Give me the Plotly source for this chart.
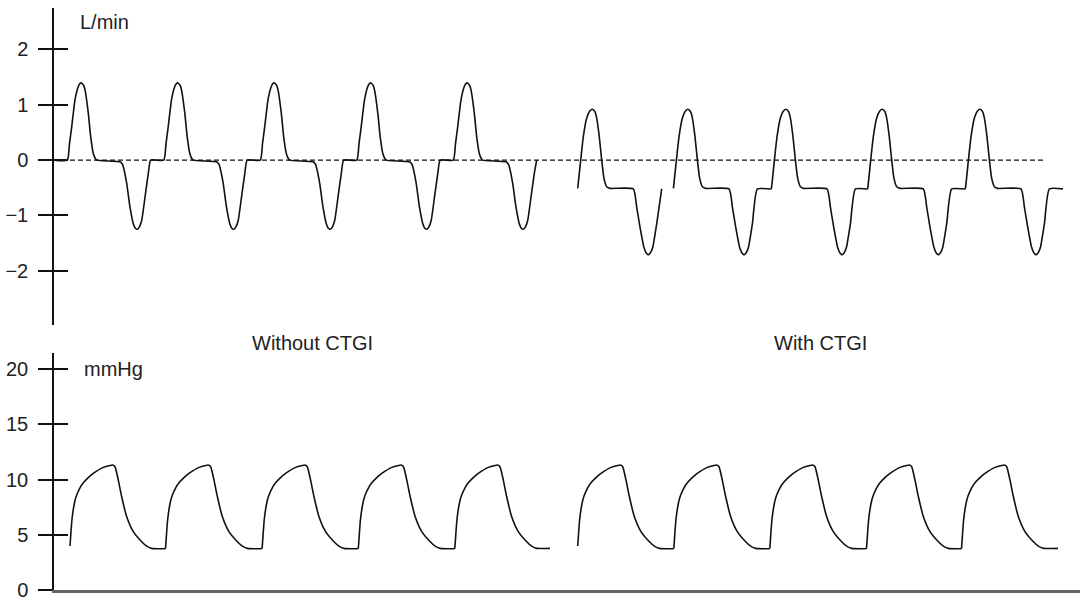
import plotly.graph_objects as go

# ---------------- data (time axis in arbitrary units, 0 = y-axis) ----------------
# Flow (L/min), one cycle "Without CTGI", offsets from start of inspiratory rise
flow_no_dt = [0, 2.2, 4.4, 7.7, 11.0, 12.5, 13.7, 15.0, 16.3, 17.7, 21.0, 23.4, 26.0, 28.0,
              29.4, 52.7, 55.0, 56.0, 59.4, 62.7, 66.0, 68.0, 70.0, 72.0, 74.4, 77.7, 81.0,
              83.4]
flow_no_v = [0, 0.30, 0.60, 1.09, 1.33, 1.38, 1.40, 1.38, 1.35, 1.27, 0.85, 0.42, 0.12, 0.03,
             0, -0.03, -0.07, -0.12, -0.42, -0.85, -1.15, -1.23, -1.25, -1.21, -1.09, -0.67,
             -0.24, 0]
flow_no_starts = [13.3, 109.8, 206.3, 302.8, 399.3]

# Flow (L/min), one cycle "With CTGI", offsets from inspiratory peak
flow_ct_dt = [-14.6, -11.6, -9.0, -5.6, -2.5, 0, 2.5, 4.4, 7.0, 9.4, 11.7, 14.4, 17.7, 41.0,
              44.4, 47.7, 51.7, 54.0, 56.0, 58.0, 60.4, 64.4, 69.4]
flow_ct_v = [-0.51, 0, 0.42, 0.76, 0.89, 0.92, 0.88, 0.76, 0.42, 0, -0.33, -0.48, -0.51, -0.52,
             -0.85, -1.21, -1.58, -1.68, -1.71, -1.68, -1.58, -1.15, -0.52]
flow_ct_peaks = [538.3, 634.0, 732.0, 828.3, 926.0]
flow_ct_end = 1009.0

zero_line_t = [0, 989]
zero_line_v = [0, 0]

# Pressure (mmHg), one cycle, offsets from start of rise
pres_dt = [0, 1.0, 2.0, 3.3, 5.0, 6.7, 10.0, 13.3, 18.0, 23.3, 33.3, 40.0, 42.7, 45.0, 48.3,
           51.7, 56.7, 63.3, 71.7, 77.0, 81.7]
pres_v = [3.98, 5.3, 6.4, 7.3, 8.1, 8.6, 9.25, 9.7, 10.15, 10.55, 11.10, 11.27, 11.31, 11.16,
          9.95, 8.44, 6.63, 5.28, 4.37, 3.95, 3.77]
pres_no_starts = [16.0, 111.7, 208.3, 304.5, 401.0]
pres_no_end = 496.0
pres_ct_starts = [523.7, 620.0, 716.0, 812.7, 907.7]
pres_ct_end = 1004.0

flow_ticks = [-2, -1, 0, 1, 2]
pres_ticks = [0, 5, 10, 15, 20]
labels = ["Without CTGI", "With CTGI"]

# ---------------- build traces ----------------
def flow_without():
    xs, ys = [0], [0]
    for s in flow_no_starts:
        xs += [s + d for d in flow_no_dt]
        ys += list(flow_no_v)
    return xs, ys


def flow_with():
    xs, ys = [], []
    n = len(flow_ct_peaks)
    for i, p in enumerate(flow_ct_peaks):
        xs += [p + d for d in flow_ct_dt]
        ys += list(flow_ct_v)
        if i == 0:
            xs.append(None)
            ys.append(None)
        elif i < n - 1:
            xs.append(flow_ct_peaks[i + 1] + flow_ct_dt[0] - 0.3)
            ys.append(flow_ct_v[-1])
        else:
            xs.append(flow_ct_end)
            ys.append(flow_ct_v[-1])
    return xs, ys


def pressure(starts, end):
    xs, ys = [], []
    for i, s in enumerate(starts):
        xs += [s + d for d in pres_dt]
        ys += list(pres_v)
        nxt = starts[i + 1] - 0.3 if i < len(starts) - 1 else end
        xs.append(nxt)
        ys.append(pres_v[-1])
    return xs, ys


LINE = dict(color="#111111", width=1.6, shape="spline", smoothing=0.5)
FONT = dict(family="Liberation Sans, Arial, Helvetica, sans-serif", size=20, color="#222222")

fig = go.Figure()
fx, fy = flow_without()
fig.add_trace(go.Scatter(x=fx, y=fy, mode="lines", line=LINE, xaxis="x", yaxis="y",
                         hoverinfo="skip", showlegend=False))
wx, wy = flow_with()
fig.add_trace(go.Scatter(x=wx, y=wy, mode="lines", line=LINE, xaxis="x", yaxis="y",
                         connectgaps=False, hoverinfo="skip", showlegend=False))
fig.add_trace(go.Scatter(x=zero_line_t, y=zero_line_v, mode="lines",
                         line=dict(color="#111111", width=1.4, dash="5px,3px"),
                         xaxis="x", yaxis="y", hoverinfo="skip", showlegend=False))
px_, py_ = pressure(pres_no_starts, pres_no_end)
fig.add_trace(go.Scatter(x=px_, y=py_, mode="lines", line=LINE, xaxis="x2", yaxis="y2",
                         hoverinfo="skip", showlegend=False))
cx_, cy_ = pressure(pres_ct_starts, pres_ct_end)
fig.add_trace(go.Scatter(x=cx_, y=cy_, mode="lines", line=LINE, xaxis="x2", yaxis="y2",
                         hoverinfo="skip", showlegend=False))
# dummy traces so the inside-tick overlay axes render
fig.add_trace(go.Scatter(x=[None], y=[None], xaxis="x", yaxis="y3", showlegend=False))
fig.add_trace(go.Scatter(x=[None], y=[None], xaxis="x2", yaxis="y4", showlegend=False))

XR = [0, 1026]
FLOW_R = [-2.98, 2.75]
PRES_R = [0, 21.45]
TOP_DOM = [0.4553, 1.0]
BOT_DOM = [0.0, 0.4072]

common_y = dict(showgrid=False, zeroline=False, ticks="outside", ticklen=14, tickwidth=1.5,
                tickcolor="#111111", showline=True, linecolor="#111111", linewidth=1.5,
                tickfont=FONT, ticklabelstandoff=6, fixedrange=True, automargin=False)
inside_y = dict(showgrid=False, zeroline=False, ticks="inside", ticklen=14, tickwidth=1.5,
                tickcolor="#111111", showline=False, showticklabels=False, fixedrange=True,
                automargin=False)

fig.update_layout(
    width=1082, height=602,
    margin=dict(l=54, r=2, t=8, b=12, autoexpand=False),
    paper_bgcolor="white", plot_bgcolor="white",
    font=FONT,
    xaxis=dict(domain=[0, 1], range=XR, visible=False, anchor="y", fixedrange=True,
               automargin=False),
    xaxis2=dict(domain=[0, 1], range=XR, anchor="y2", showgrid=False, zeroline=False,
                showticklabels=False, ticks="", showline=True, linecolor="#666666",
                linewidth=2.5, fixedrange=True, automargin=False),
    yaxis=dict(domain=TOP_DOM, range=FLOW_R, anchor="x", tickvals=flow_ticks, **common_y),
    yaxis3=dict(domain=TOP_DOM, range=FLOW_R, anchor="x", overlaying="y", tickvals=flow_ticks,
                **inside_y),
    yaxis2=dict(domain=BOT_DOM, range=PRES_R, anchor="x2", tickvals=pres_ticks, **common_y),
    yaxis4=dict(domain=BOT_DOM, range=PRES_R, anchor="x2", overlaying="y2", tickvals=pres_ticks,
                **inside_y),
    annotations=[
        dict(text="L/min", x=24, y=2.5, xref="x", yref="y", xanchor="left", yanchor="middle",
             showarrow=False, font=FONT),
        dict(text="mmHg", x=28, y=20.0, xref="x2", yref="y2", xanchor="left", yanchor="middle",
             showarrow=False, font=FONT),
        dict(text=labels[0], x=258.5, y=0.4244, xref="x2", yref="paper", xanchor="center",
             yanchor="middle", showarrow=False, font=FONT),
        dict(text=labels[1], x=766, y=0.4244, xref="x2", yref="paper", xanchor="center",
             yanchor="middle", showarrow=False, font=FONT),
    ],
)

# remove the browser's default 8px body margin so the figure fills the window exactly
fig.write_html("out.html", config={"displayModeBar": False},
               post_script="document.body.style.margin='0';"
                           "document.body.style.overflow='hidden';")
